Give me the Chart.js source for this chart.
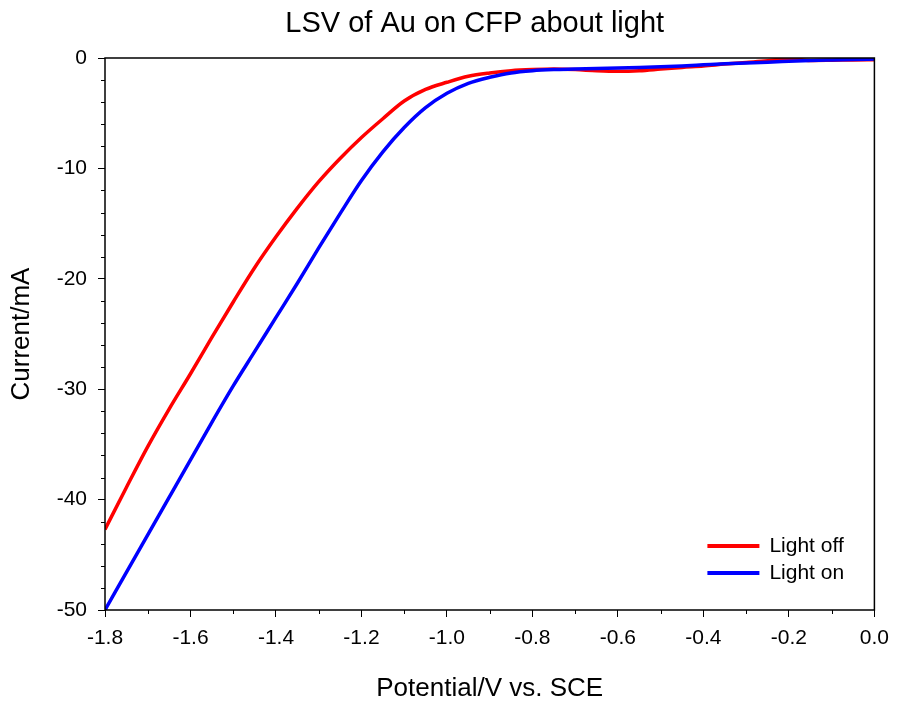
<html>
<head>
<script src="https://cdn.jsdelivr.net/npm/chart.js@4.4.1/dist/chart.umd.min.js"></script>
<style>
  body { margin: 0; background: #fff; }
  #wrap { width: 898px; height: 704px; }
</style>
</head>
<body>
<div id="wrap"><canvas id="lsv"></canvas></div>
<script>
// potential (V vs. SCE)
const potential = [-1.80, -1.75, -1.70, -1.65, -1.60, -1.55, -1.50, -1.45, -1.40, -1.35,
                   -1.30, -1.25, -1.20, -1.15, -1.10, -1.05, -1.00, -0.95, -0.90, -0.85,
                   -0.80, -0.75, -0.70, -0.65, -0.60, -0.55, -0.50, -0.45, -0.40, -0.35,
                   -0.30, -0.25, -0.20, -0.15, -0.10, -0.05, 0.00]
// current (mA)
const lightOff = [-42.7, -38.9, -35.2, -31.8, -28.6, -25.3, -22.1, -19.0, -16.2, -13.6,
                  -11.2, -9.1, -7.2, -5.5, -3.9, -2.85, -2.2, -1.65, -1.35, -1.15,
                  -1.05, -1.0, -1.05, -1.15, -1.2, -1.15, -1.0, -0.85, -0.72, -0.55,
                  -0.4, -0.25, -0.05, -0.22, -0.2, -0.17, -0.15]
const lightOn = [-50.0, -46.6, -43.2, -39.8, -36.4, -33.0, -29.7, -26.6, -23.5, -20.4,
                 -17.2, -14.1, -11.1, -8.5, -6.3, -4.5, -3.2, -2.3, -1.75, -1.35,
                 -1.15, -1.05, -1.0, -0.95, -0.9, -0.85, -0.8, -0.72, -0.62, -0.52,
                 -0.45, -0.38, -0.3, -0.22, -0.17, -0.13, -0.1]
const seriesNames = ['Light off', 'Light on']
const seriesColors = ['#ff0000', '#0000ff']
const chartTitle = 'LSV of Au on CFP about light'

const FONT = "'Liberation Sans', Arial, sans-serif"

function pts(ys) { return potential.map((x, i) => ({ x: x, y: ys[i] })) }

// frame, minor ticks, title and legend drawn on top
const decor = {
    id: 'decor',
    afterDraw(chart) {
        const c = chart.ctx, a = chart.chartArea
        const xs = chart.scales.x, ys = chart.scales.y
        c.save()
        c.strokeStyle = '#000'
        c.lineWidth = 1.5
        c.strokeRect(a.left, a.top, a.right - a.left, a.bottom - a.top)
        c.lineWidth = 1
        c.beginPath()
        for (let v = -50; v <= 0; v += 2) {
            if (v % 10 === 0) continue
            const py = Math.round(ys.getPixelForValue(v)) + 0.5
            c.moveTo(a.left - 4, py); c.lineTo(a.left, py)
        }
        for (let k = -18; k <= 0; k++) {
            if (k % 2 === 0) continue
            const px = Math.round(xs.getPixelForValue(k / 10)) + 0.5
            c.moveTo(px, a.bottom); c.lineTo(px, a.bottom + 4)
        }
        c.stroke()

        c.fillStyle = '#000'
        c.font = '29px ' + FONT
        c.textAlign = 'center'
        c.textBaseline = 'middle'
        c.fillText(chartTitle, (a.left + a.right) / 2 - 15, 24)

        c.font = '21px ' + FONT
        c.textAlign = 'left'
        chart.data.datasets.forEach((ds, i) => {
            const y = a.bottom - 64 + i * 27
            c.strokeStyle = ds.borderColor
            c.lineWidth = 4
            c.beginPath()
            c.moveTo(a.right - 167, y); c.lineTo(a.right - 115, y)
            c.stroke()
            c.fillText(ds.label, a.right - 105, y)
        })
        c.restore()
    }
}

new Chart(document.getElementById('lsv'), {
    type: 'scatter',
    data: {
        datasets: [
            { label: seriesNames[0], data: pts(lightOff), borderColor: seriesColors[0], order: 1 },
            { label: seriesNames[1], data: pts(lightOn), borderColor: seriesColors[1], order: 0 }
        ]
    },
    options: {
        responsive: true,
        maintainAspectRatio: false,
        animation: false,
        showLine: true,
        layout: { padding: { top: 58, right: 21, left: 0, bottom: 0 } },
        elements: {
            point: { radius: 0 },
            line: { borderWidth: 3.5, cubicInterpolationMode: 'monotone' }
        },
        plugins: { legend: { display: false }, tooltip: { enabled: false } },
        scales: {
            x: {
                min: -1.8, max: 0,
                afterFit: (s) => { s.height = 94 },
                border: { display: false },
                grid: { drawOnChartArea: false, color: '#000', tickLength: 7, lineWidth: 1 },
                ticks: {
                    stepSize: 0.2, padding: 9, color: '#000',
                    font: { family: FONT, size: 21 },
                    callback: (v) => Math.abs(v) < 1e-9 ? '0.0' : Number(v).toFixed(1)
                },
                title: {
                    display: true, text: 'Potential/V vs. SCE', color: '#000',
                    font: { family: FONT, size: 26 }, padding: 0
                }
            },
            y: {
                min: -50, max: 0,
                afterFit: (s) => { s.width = 105 },
                border: { display: false },
                grid: { drawOnChartArea: false, color: '#000', tickLength: 7, lineWidth: 1 },
                ticks: {
                    stepSize: 10, padding: 11, color: '#000',
                    font: { family: FONT, size: 21 }
                },
                title: {
                    display: true, text: 'Current/mA', color: '#000',
                    font: { family: FONT, size: 26 }, padding: { top: 6, bottom: 0 }
                }
            }
        }
    },
    plugins: [decor]
})
</script>
</body>
</html>
